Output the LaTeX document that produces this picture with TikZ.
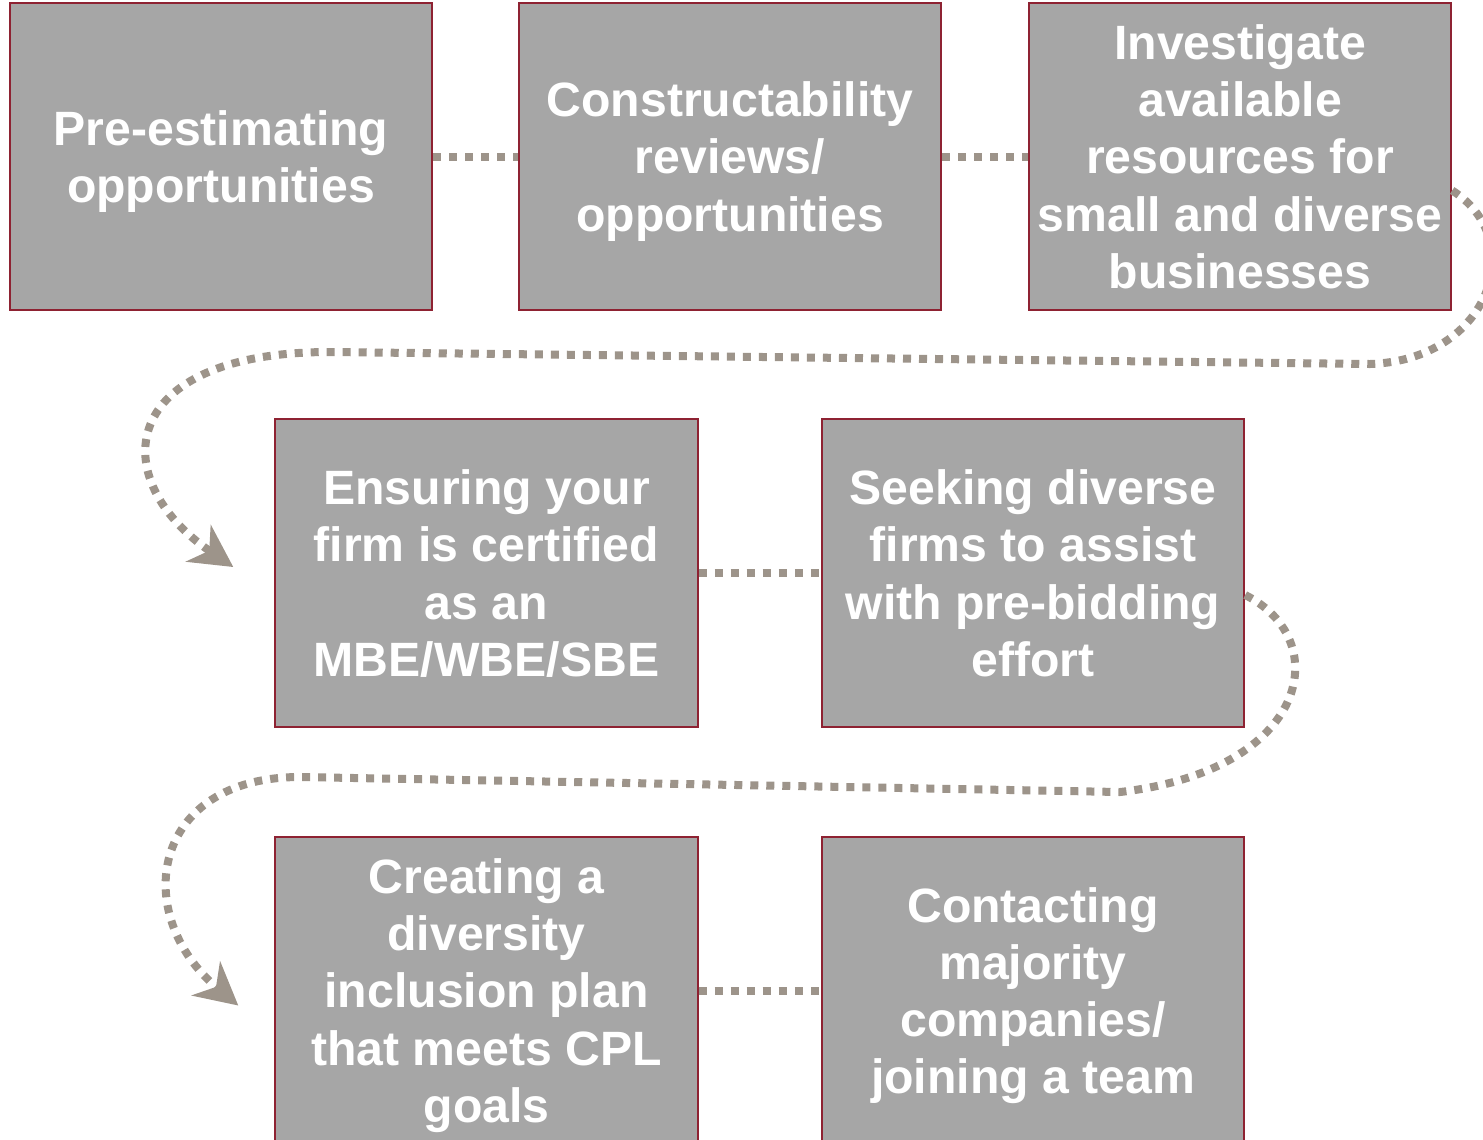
\documentclass[tikz,border=0pt]{standalone}
\usepackage{fontspec}
\setmainfont{Liberation Sans}
\usepackage{xcolor}
\usetikzlibrary{arrows.meta}

\definecolor{boxgray}{HTML}{A6A6A6}
\definecolor{boxedge}{HTML}{8E2232}
\definecolor{dotgray}{HTML}{9D948A}

\tikzset{
    stepbox/.style={draw=boxedge, line width=0.6pt, fill=boxgray, text=white,
        minimum width=4.22cm, minimum height=3.07cm, align=center, inner xsep=1pt,
        text depth=-0.06cm,
        font=\fontsize{13.7}{16.3}\selectfont\bfseries},
    dotline/.style={draw=dotgray, line width=0.08cm, dash pattern=on 0.08cm off 0.08cm},
    dotarrow/.style={dotline, -{Stealth[length=0.42cm, width=0.44cm, inset=0.13cm]}}
}

\begin{document}
\begin{tikzpicture}[x=0.01cm, y=-0.01cm]
    \useasboundingbox (0,0) rectangle (1483,1139);

    % first row
    \node[stepbox] (pre) at (221,156.5) {Pre-estimating\\opportunities};
    \node[stepbox] (con) at (730,156.5) {Constructability\\reviews/\\opportunities};
    \node[stepbox] (inv) at (1240,156.5) {Investigate\\available\\resources for\\small and diverse\\businesses};

    \draw[dotline] (pre.east) -- (con.west);
    \draw[dotline] (con.east) -- (inv.west);

    % second row
    \node[stepbox] (ens) at (486.5,573) {Ensuring your\\firm is certified\\as an\\MBE/WBE/SBE};
    \node[stepbox] (see) at (1033,573) {Seeking diverse\\firms to assist\\with pre-bidding\\effort};

    \draw[dotline] (ens.east) -- (see.west);

    % third row
    \node[stepbox] (cre) at (486.5,990.5) {Creating a\\diversity\\inclusion plan\\that meets CPL\\goals};
    \node[stepbox] (cnt) at (1033,990.5) {Contacting\\majority\\companies/\\joining a team};

    \draw[dotline] (cre.east) -- (cnt.west);

    % turns between rows
    \draw[dotarrow] ([yshift=-0.34cm]inv.east) .. controls (1530,240) and (1490,360) .. (1370,364)
        -- (330,352) .. controls (115,352) and (105,480) .. ([xshift=-0.41cm, yshift=0.06cm]ens.west);
    \draw[dotarrow] ([yshift=-0.22cm]see.east) .. controls (1335,640) and (1310,770) .. (1120,792)
        -- (300,777) .. controls (150,777) and (130,915) .. ([xshift=-0.36cm, yshift=-0.15cm]cre.west);
\end{tikzpicture}
\end{document}
